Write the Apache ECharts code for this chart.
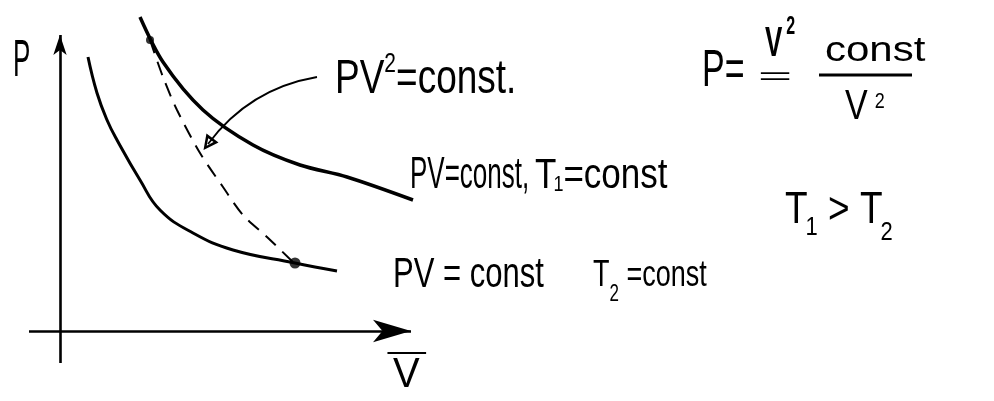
<!DOCTYPE html>
<html><head><meta charset="utf-8">
<script src="https://cdn.jsdelivr.net/npm/echarts/dist/echarts.min.js"></script>
<style>html,body{margin:0;padding:0;background:#fff}#c{width:994px;height:401px}</style>
</head><body><div id="c"></div>
<script>
// ---- data (V, P) in arbitrary units ----
const isothermT1 = [[4.0,15.7],[5.15,13.45],[7.15,11.05],[9.65,9.3],[12.0,8.3],[14.35,7.7],[17.65,6.55]];
const isothermT2 = [[1.4,13.7],[1.85,11.9],[2.35,10.55],[2.85,9.55],[4.0,7.55],[5.0,6.05],[6.65,4.9],[8.65,4.05],[11.75,3.4],[13.85,3.0]];
const processPV2 = [[4.5,14.55],[5.15,12.7],[5.85,11.05],[7.0,8.9],[8.15,7.2],[9.15,5.8],[10.35,4.7],[11.75,3.35]];
const statePoints = [[4.5,14.55],[11.75,3.4]];
const axisV = [[-1.55,0],[17.55,0]];
const axisP = [[0,-1.6],[0,14.8]];
const pointer = [[12.85,12.7],[7.4,9.35]];

const FONT = "'Liberation Sans', Arial, sans-serif";
const dotSizes = [8, 11];
const openArrow = 'path://M5,0L10,14L0,14Z M5,5L2.8,11.5L7.2,11.5Z';

const mctx = document.createElement('canvas').getContext('2d');
// pieces: [text, fontSize, centerY, gapAfter, weight]
function run(x, pieces, sy, sx) {
  const els = [];
  let cx = x;
  sx = sx || 1;
  pieces.forEach(p => {
    const t = p[0], fs = p[1], cy = p[2], gap = p[3] || 0, fw = p[4] || 'normal';
    const font = fw + ' ' + fs + 'px ' + FONT;
    mctx.font = font;
    const w = mctx.measureText(t).width * sx;
    els.push({type: 'text', x: cx, y: cy, scaleX: sx, scaleY: sy, silent: true, z: 10,
      style: {text: t, font: font, fill: '#000', align: 'left', verticalAlign: 'middle',
        textAlign: 'left', textVerticalAlign: 'middle'}});
    cx += w + gap;
  });
  return els;
}

const texts = [].concat(
  run(13, [['P', 26, 62]], 2.0),
  run(335, [['PV', 37, 80], ['2', 21, 65], ['=const.', 37, 80]], 1.28),
  run(410, [['PV=const,', 26, 176]], 1.7),
  run(535, [['T', 35, 176, -3], ['1', 18, 185], ['=const', 35, 176]], 1.2),
  run(393, [['PV = const', 31, 275]], 1.35),
  run(593, [['T', 27, 276], ['2', 17, 294.5], [' =const', 27, 276]], 1.38),
  run(785, [['T', 37, 211, -2], ['1', 22, 227.5], [' > T', 37, 211, -2], ['2', 22, 233]], 1.2),
  run(702, [['P=', 34, 72]], 1.5),
  run(765, [['V', 26, 45, 4, 'bold'], ['2', 16, 27, 0, 'bold']], 1.6),
  run(758, [['=', 30, 77]], 0.8, 1.95),
  run(825, [['const', 42, 51.5]], 0.85),
  run(845, [['V', 34, 107.5, 7], ['2', 18, 102]], 1.26),
  run(393, [['V', 40, 375]], 1.05),
  run(388, [['\u00AF', 40, 372]], 1.05, 1.7)
);

const chart = echarts.init(document.getElementById('c'), null, {renderer: 'canvas'});
const black = '#000';
chart.setOption({
  animation: false,
  backgroundColor: '#fff',
  grid: {left: 0, right: 0, top: 0, bottom: 0},
  xAxis: {type: 'value', min: -3, max: 46.7, show: false},
  yAxis: {type: 'value', min: -3.5, max: 16.55, show: false},
  series: [
    {type: 'line', name: 'T1', data: isothermT1, smooth: 0.3, symbol: 'none', silent: true,
      lineStyle: {color: black, width: 3.5}},
    {type: 'line', name: 'T2', data: isothermT2, smooth: 0.45, symbol: 'none', silent: true,
      lineStyle: {color: black, width: 3}},
    {type: 'line', name: 'PV2', data: processPV2, smooth: 0.3, symbol: 'none', silent: true,
      lineStyle: {color: black, width: 2, type: [14, 9]}},
    {type: 'scatter', name: 'states', data: statePoints, silent: true, z: 5,
      symbolSize: (v, p) => dotSizes[p.dataIndex], itemStyle: {color: black}},
    {type: 'line', name: 'axes', data: [], silent: true,
      markLine: {silent: true, animation: false, symbol: ['none', 'arrow'], label: {show: false},
        emphasis: {disabled: true}, itemStyle: {color: black},
        lineStyle: {color: black, width: 2.6, type: 'solid'},
        data: [
          [{coord: axisV[0]}, {coord: axisV[1], symbolSize: [17, 38]}],
          [{coord: axisP[0]}, {coord: axisP[1], symbolSize: [10, 20]}]
        ]}},
    {type: 'lines', name: 'pointer', coordinateSystem: 'cartesian2d', silent: true, z: 4,
      symbol: ['none', openArrow], symbolSize: [11, 15],
      lineStyle: {color: black, width: 1.8, type: 'solid', curveness: -0.2, opacity: 1},
      itemStyle: {color: black},
      data: [{coords: pointer}]}
  ],
  graphic: {elements: texts.concat([
    {type: 'line', silent: true, shape: {x1: 819, y1: 75, x2: 912, y2: 75}, style: {stroke: black, lineWidth: 3}}
  ])}
});
</script>
</body></html>
